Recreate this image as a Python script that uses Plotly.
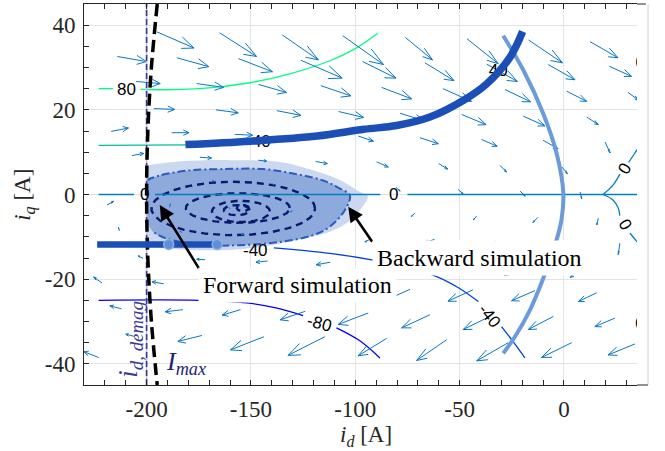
import numpy as np
import plotly.graph_objects as go

# ---------------- data ----------------
# quiver field: tail positions (i_d, i_q) and components (du, dv), rows top -> bottom
q_x0 = [-195, -165, -135, -106, -76, -46.5, -17, 12.5]
q_y0 = [38.4, 38.2, 37.7, 37.5, 37.1, 36.8, 36.5, 36.1]
q_u0 = [17.7, 17.7, 17.3, 19.5, 13.0, 15.0, 16.3, 13.4]
q_v0 = [-3.8, -5.6, -5.9, -6.8, -5.3, -5.9, -5.4, -3.8]

q_x1 = [-214, -185.5, -156, -126, -96.5, -66.6, -37, -7.5, 21.7]
q_y1 = [32.6, 32.3, 32.1, 31.7, 31.4, 31.1, 30.8, 30.7, 30.3]
q_u1 = [13.9, 15.3, 16.3, 19.7, 16.0, 13.9, 14.7, 12.8, 10.7]
q_v1 = [-1.2, -2.1, -3.1, -4.2, -3.9, -4.2, -4.1, -3.6, -2.4]

q_x2 = [-205, -176, -146.4, -116.5, -87.4, -58, -28.3, 1.3, 30.7]
q_y2 = [26.7, 26.2, 26.0, 25.7, 25.3, 25.0, 24.8, 24.4, 24.1]
q_u2 = [11.5, 12.9, 13.4, 14.4, 14.4, 13.7, 12.3, 9.6, 5.0]
q_v2 = [-0.5, -0.9, -1.9, -2.4, -2.7, -3.0, -2.9, -2.4, -1.8]

q_x3 = [-196.5, -166.8, -137.6, -108, -78.5, -49, -19.5, 10.9]
q_y3 = [20.3, 20.0, 19.8, 19.6, 19.2, 18.9, 18.5, 18.3]
q_u3 = [9.9, 10.7, 11.5, 12.0, 11.5, 11.7, 10.4, 5.6]
q_v3 = [-0.2, -0.7, -1.1, -1.4, -1.8, -2.4, -2.3, -1.8]

q_x4 = [-217, -188, -157.7, -128, -98.5, -69, -39.5, -10, 19.7]
q_y4 = [14.9, 14.6, 14.2, 14.0, 13.8, 13.4, 13.0, 12.8, 12.4]
q_u4 = [8.3, 8.3, 8.5, 8.0, 7.2, 8.8, 7.5, 7.2, 2.4]
q_v4 = [0.8, 0.0, -0.2, -0.8, -1.2, -1.4, -1.6, -2.0, -2.6]

q_x5 = [-207, -174.5, -146.5, -119, -89.8, -60, -30.7, -1]
q_y5 = [9.2, 8.8, 8.1, 7.8, 7.7, 7.3, 6.9, 6.5]
q_u5 = [5.6, 5.6, 4.0, 5.6, 5.6, 4.3, 3.2, 2.7]
q_v5 = [0.5, -0.2, -0.2, -0.5, -1.2, -1.3, -1.6, -1.6]

q_x6 = [-199, -169, -140, -110, -80.5, -50.7, -21, 7.7]
q_y6 = [3.2, 2.9, 2.6, 2.2, 1.7, 1.2, 0.8, 0.6]
q_u6 = [1.2, 1.0, 1.0, 1.5, 2.0, 2.4, 2.4, 0.8]
q_v6 = [0.8, 0.4, -0.3, -0.6, -0.9, -1.1, -1.2, -1.6]

q_x7 = [-219, -189, -160, -130, -100.5, -71.5, -41.8, -12.5, 16.5]
q_y7 = [-2.5, -3.0, -3.4, -3.8, -4.2, -4.4, -5.1, -5.4, -5.6]
q_u7 = [3.2, 0.5, -0.5, -1.0, -1.3, -1.6, -1.6, -2.4, -0.8]
q_v7 = [0.9, 0.8, 0.3, -0.3, -0.6, -0.8, -0.9, -1.2, -1.6]

q_x8 = [-213, -183, -153, -123, -93, -62, -32.7, -3, 26.8]
q_y8 = [-8.6, -9.0, -9.4, -9.9, -10.6, -10.6, -11.0, -11.3, -11.5]
q_u8 = [-0.5, -1.0, -1.6, -2.0, -2.4, -4.8, -4.0, -3.0, -0.8]
q_v8 = [0.8, 0.3, -0.1, -0.3, -0.6, -0.8, -1.0, -1.5, -2.7]

q_x9 = [-201.7, -172, -142, -112, -82, -52, -22, 8]
q_y9 = [-15.1, -15.4, -15.7, -16.0, -16.5, -16.9, -17.3, -17.6]
q_u9 = [-2.4, -4.0, -5.6, -6.7, -7.0, -7.5, -6.5, -5.0]
q_v9 = [0.6, 0.1, -0.3, -0.6, -1.2, -1.6, -1.8, -2.0]

q_x10 = [-221.4, -191.8, -162, -133, -103, -73.8, -43.6, -13.9, 15.7]
q_y10 = [-20.9, -21.1, -21.4, -21.7, -22.0, -22.4, -22.5, -22.7, -23.2]
q_u10 = [-4.0, -5.6, -7.0, -8.0, -9.0, -10.0, -12.0, -11.2, -8.8]
q_v10 = [1.4, 0.5, -0.3, -1.0, -1.5, -2.2, -2.7, -2.4, -2.1]

q_x11 = [-212, -182.6, -155, -124, -93.8, -64.2, -35.5, -5.1, 24.4]
q_y11 = [-27.0, -27.2, -27.2, -27.6, -28.0, -28.4, -28.8, -28.8, -29.2]
q_u11 = [-5.6, -8.5, -8.8, -12.0, -14.4, -13.6, -12.8, -12.0, -9.6]
q_v11 = [0.7, -0.5, -1.3, -2.0, -2.7, -3.1, -3.1, -3.1, -2.0]

q_x12 = [-206, -173.5, -143.8, -114.6, -85, -56.2, -26.7, 3.7, 34]
q_y12 = [-33.5, -33.3, -33.6, -33.6, -34.0, -34.3, -35.0, -35.0, -35.3]
q_u12 = [-4.0, -11.5, -16.0, -17.6, -13.6, -14.4, -15.1, -14.4, -12.8]
q_v12 = [0.5, -1.4, -3.1, -4.4, -4.1, -4.9, -4.3, -3.5, -2.6]

q_x13 = [-223]
q_y13 = [-38.5]
q_u13 = [-7.2]
q_v13 = [1.4]

# contour lines (None = gap for a label)
c80_x = [-223, -216, None, -203, -200, -174.5, -150.5, -131.4, -112.2, -100.2, -89.2]
c80_y = [25.0, 25.0, None, 24.9, 24.8, 25.0, 26.4, 28.5, 31.6, 34.4, 38.1]
c40_x = [-223, -181]
c40_y = [11.6, 11.7]
c0_x = [-223, -206, None, -196, -88, None, -75, 18.7, 35, None,
        18.7, 23.5, 26.8, None, 31.0, 34.0, 35.0, None,
        18.7, 23.5, 26.0, 26.8, None, 31.6, 35.0]
c0_y = [0, 0, None, 0, 0, None, 0, 0, 0, None,
        0, 2.2, 4.8, None, 7.6, 9.8, 10.6, None,
        0, -1.3, -3.2, -5.0, None, -9.1, -11.2]
cm40_x = [-223, -165, -158, None, -139, -112.2, -91.4, -75, -61, -50, -41, None, -29.9, -24, -18.7]
cm40_y = [-11.6, -11.8, -12.1, None, -12.6, -13.9, -15.5, -17.2, -19.4, -22.2, -25.3, None, -31.2, -35.0, -38.6]
cm80_x = [-223, -175, -152, -138, -125, None, -109, -98, -88.2]
cm80_y = [-25.0, -25.0, -25.6, -26.8, -28.6, None, -31.5, -34.5, -38.6]

# operating region (outer light / inner medium) and level ellipses
light_x = [-200, -187.3, -171.3, -160.1, -136.1, -120.2, -107.4, -97.8, -94.0,
           -97.8, -104.2, -112.2, -128.1, -144.2, -160.1, -179.3, -193.7, -200]
light_y = [6.9, 7.7, 8.1, 8.1, 7.7, 5.7, 3.4, 0.6, -0.4,
           -3.7, -6.8, -8.8, -10.8, -12.3, -13.1, -13.1, -12.6, -11.9]
med_x = [-200, -193.7, -179.3, -163.3, -144.2, -128.1, -115.4, -107.4, -102.6,
         -105.0, -112.2, -120.2, -136.1, -152.1, -174.5, -190.5, -196.9, -200]
med_y = [3.4, 4.5, 5.7, 6.0, 6.0, 4.8, 3.3, 1.4, -0.2,
         -3.7, -7.6, -9.6, -11.2, -11.9, -11.9, -10.4, -8.8, -6.0]
ell_cx = [-158.5, -156.3, -154.8, -156.8, -153.9]
ell_cy = [-3.3, -3.2, -4.0, -3.7, -3.2]
ell_a = [39.2, 24.9, 13.9, 6.2, 2.9]
ell_b = [6.3, 3.5, 2.5, 1.2, 0.7]

# trajectories and limits
bwd_x = [-181.4, -150.3, -118.3, -95.9, -80.2, -64.2, -48.3, -37.1, -25.9, -19.8]
bwd_y = [11.8, 12.6, 13.8, 15.4, 16.3, 18.3, 22.2, 26.1, 32.4, 38.5]
fwd_x = [-223.7, -165.4]
fwd_y = [-11.8, -11.8]
fwd_mk_x = [-189.4, -166.2]
fwd_mk_y = [-11.8, -11.8]
arc_x = [-29.1, -19.5, -9.9, -3.5, -0.3, -1.2, -4.0, -9.9, -16.3, -23.5, -29.1]
arc_y = [37.5, 29.4, 19.1, 9.7, 0.3, -6.0, -11.5, -19.8, -27.3, -33.6, -37.5]
imax_x = [-194.9, -197.7, -199.4, -200, -199.4, -197.7, -194.9]
imax_y = [45, 30, 15, 0, -15, -30, -45]
demag_x = [-200, -200]
demag_y = [-45, 45]

x_ticks = [-200, -150, -100, -50, 0]
x_ticktext = ["-200", "-150", "-100", "-50", "0"]
y_ticks = [-40, -20, 0, 20, 40]
y_ticktext = ["-40", "-20", "0", "20", "40"]

# ---------------- figure ----------------
X_RANGE = [-230, 35]
Y_RANGE = [-45, 45]
SERIF = "Liberation Serif"
SANS = "Liberation Sans"

fig = go.Figure()

def line(x, y, color, width, dash="solid", shape="linear"):
    fig.add_trace(go.Scatter(x=x, y=y, mode="lines", hoverinfo="skip", showlegend=False,
                             line=dict(color=color, width=width, dash=dash, shape=shape),
                             connectgaps=False))

# contours hidden by the region first
line(cm40_x, cm40_y, "#0040df", 1.3, shape="spline")
line(cm80_x, cm80_y, "#0000ff", 1.3, shape="spline")
line(c80_x, c80_y, "#00ff80", 1.3, shape="spline")
line(c40_x, c40_y, "#00bf9f", 1.3)

# region fills
fig.add_trace(go.Scatter(x=light_x, y=light_y, mode="lines", fill="toself",
                         fillcolor="#cbd8ef", line=dict(width=0, shape="spline"),
                         hoverinfo="skip", showlegend=False))
fig.add_trace(go.Scatter(x=med_x, y=med_y, mode="lines", fill="toself",
                         fillcolor="#8eaadc", line=dict(width=0, shape="spline"),
                         hoverinfo="skip", showlegend=False))
# level ellipses
t = np.linspace(0, 2 * np.pi, 160)
for cx, cy, a, b in zip(ell_cx, ell_cy, ell_a, ell_b):
    line(cx + a * np.cos(t), cy + b * np.sin(t), "#0a196e", 2.4, dash="7px,5px")
# region boundary (dash-dot)
line(med_x[:-1], med_y[:-1], "#2a5cbd", 2.0, dash="8px,3px,2px,3px", shape="spline")

# zero contour
line(c0_x, c0_y, "#0080bf", 1.3, shape="spline")

# quiver arrows (MATLAB-style heads)
alpha, beta = 0.33, 0.23
qx = q_x0 + q_x1 + q_x2 + q_x3 + q_x4 + q_x5 + q_x6 + q_x7 + q_x8 + q_x9 + q_x10 + q_x11 + q_x12 + q_x13
qy = q_y0 + q_y1 + q_y2 + q_y3 + q_y4 + q_y5 + q_y6 + q_y7 + q_y8 + q_y9 + q_y10 + q_y11 + q_y12 + q_y13
qu = q_u0 + q_u1 + q_u2 + q_u3 + q_u4 + q_u5 + q_u6 + q_u7 + q_u8 + q_u9 + q_u10 + q_u11 + q_u12 + q_u13
qv = q_v0 + q_v1 + q_v2 + q_v3 + q_v4 + q_v5 + q_v6 + q_v7 + q_v8 + q_v9 + q_v10 + q_v11 + q_v12 + q_v13
ax_, ay_ = [], []
for x, y, u, v in zip(qx, qy, qu, qv):
    tx, ty = x + u, y + v
    ax_ += [x, tx, None]
    ay_ += [y, ty, None]
    ax_ += [tx - alpha * (u + beta * v), tx, tx - alpha * (u - beta * v), None]
    ay_ += [ty - alpha * (v - beta * u), ty, ty - alpha * (v + beta * u), None]
fig.add_trace(go.Scatter(x=ax_, y=ay_, mode="lines", hoverinfo="skip", showlegend=False,
                         line=dict(color="#0a78c4", width=1)))

# demag limit and current limit
line(demag_x, demag_y, "#c4c4e0", 1.6)
line(demag_x, demag_y, "#3c3c8c", 1.6, dash="6px,3px")
line(imax_x, imax_y, "black", 3.5, dash="12px,6px", shape="spline")

# contour labels sitting below the thick trajectory
fig.add_trace(go.Scatter(x=[-145, -31.5], y=[12.3, 29.0], mode="text", text=["40", "40"],
                         textfont=dict(family=SANS, size=17, color="black"),
                         hoverinfo="skip", showlegend=False))

# light-blue arc
line(arc_x, arc_y, "#6b9bd8", 4, shape="spline")

# trajectories
line(bwd_x, bwd_y, "#1c4fb6", 7.5, shape="spline")
line(fwd_x, fwd_y, "#1c4fb6", 6.5)
fig.add_trace(go.Scatter(x=fwd_mk_x, y=fwd_mk_y, mode="markers", hoverinfo="skip", showlegend=False,
                         marker=dict(size=10, color="#5d8fd6", line=dict(color="#86aee6", width=1.5))))

# partially clipped labels at the right edge
fig.add_trace(go.Scatter(x=[36.6, 36.4], y=[31.0, -30.8], mode="text", text=["0", "0"],
                         textfont=dict(family=SANS, size=17, color="black"),
                         hoverinfo="skip", showlegend=False))

# ---------- annotations ----------
def clabel(x, y, txt, ang=0):
    fig.add_annotation(x=x, y=y, text=txt, showarrow=False, textangle=ang,
                       xanchor="center", yanchor="middle",
                       font=dict(family=SANS, size=17, color="black"))

clabel(-209.5, 24.8, "80")
clabel(-200.9, 0, "0")
clabel(-81.5, 0, "0")
clabel(-147.6, -13.3, "-40")
clabel(-117.1, -30.5, "-80", 15)
clabel(-35.5, -28.8, "-40", 52)
clabel(28.8, 6.0, "0", -60)
clabel(29.2, -7.2, "0", 60)

# pointer arrows
fig.add_annotation(x=-193.7, y=-2.5, ax=-174.5, ay=-17.8, axref="x", ayref="y", text="",
                   showarrow=True, arrowhead=2, arrowsize=1.15, arrowwidth=2.6, arrowcolor="black")
fig.add_annotation(x=-103.4, y=-2.9, ax=-91.4, ay=-11.5, axref="x", ayref="y", text="",
                   showarrow=True, arrowhead=2, arrowsize=1.15, arrowwidth=2.6, arrowcolor="black")

fig.add_annotation(x=-127.5, y=-21.4, text="Forward simulation", showarrow=False,
                   xanchor="center", yanchor="middle",
                   bgcolor="white", borderpad=4, font=dict(family=SERIF, size=24, color="black"))
fig.add_annotation(x=-40.3, y=-14.9, text="Backward simulation", showarrow=False,
                   xanchor="center", yanchor="middle",
                   bgcolor="white", borderpad=4, font=dict(family=SERIF, size=24, color="black"))

fig.add_annotation(x=-208, y=-34.1, text="<i>i</i><sub><i>d, demag</i></sub>", showarrow=False,
                   xanchor="center", yanchor="middle",
                   textangle=-90, font=dict(family=SERIF, size=27, color="#3a3a96"))
fig.add_annotation(x=-181.1, y=-39.8, text="<i>I</i><sub><i>max</i></sub>", showarrow=False,
                   xanchor="center", yanchor="middle",
                   font=dict(family=SERIF, size=26, color="#24246e"))

# axis titles
fig.add_annotation(x=0.51, y=-0.133, xref="paper", yref="paper", text="<i>i</i><sub><i>d</i></sub> [A]",
                   xanchor="center", yanchor="middle",
                   showarrow=False, font=dict(family=SERIF, size=23, color="#262626"))
fig.add_annotation(x=-0.108, y=0.5, xref="paper", yref="paper", text="<i>i</i><sub><i>q</i></sub> [A]",
                   xanchor="center", yanchor="middle",
                   showarrow=False, textangle=-90, font=dict(family=SERIF, size=23, color="#262626"))

# box pieces outside the clipped data area
fig.add_shape(type="line", xref="paper", yref="paper", x0=1.0199, x1=1.0199, y0=0, y1=1,
              line=dict(color="#d0d0d0", width=1))
fig.add_shape(type="line", xref="paper", yref="paper", x0=1.0, x1=1.0199, y0=0, y1=0,
              line=dict(color="#262626", width=1))
fig.add_shape(type="line", xref="paper", yref="paper", x0=1.0, x1=1.016, y0=1, y1=1,
              line=dict(color="#262626", width=1))

axis_common = dict(showgrid=True, gridcolor="#e3e3e3", gridwidth=1, zeroline=False,
                   showline=True, linecolor="#262626", linewidth=1, automargin=False,
                   ticks="inside", ticklen=5, tickcolor="#262626",
                   tickfont=dict(family=SERIF, size=23, color="#262626"))
fig.update_xaxes(range=X_RANGE, tickmode="array", tickvals=x_ticks, ticktext=x_ticktext,
                 mirror="ticks", ticklabelstandoff=3,
                 minor=dict(dtick=10, tick0=0, ticks="inside", ticklen=5, tickcolor="#262626"),
                 **axis_common)
fig.update_yaxes(range=Y_RANGE, tickmode="array", tickvals=y_ticks, ticktext=y_ticktext,
                 mirror=False, ticklabelstandoff=3,
                 minor=dict(dtick=5, tick0=0, ticks="inside", ticklen=5, tickcolor="#262626"),
                 **axis_common)

fig.update_layout(width=665, height=451, margin=dict(l=84, r=28, t=4, b=66, autoexpand=False),
                  plot_bgcolor="white", paper_bgcolor="white", showlegend=False)

fig.write_html("out.html", config={"displayModeBar": False},
               post_script="document.body.style.margin='0';document.body.style.overflow='hidden';")
